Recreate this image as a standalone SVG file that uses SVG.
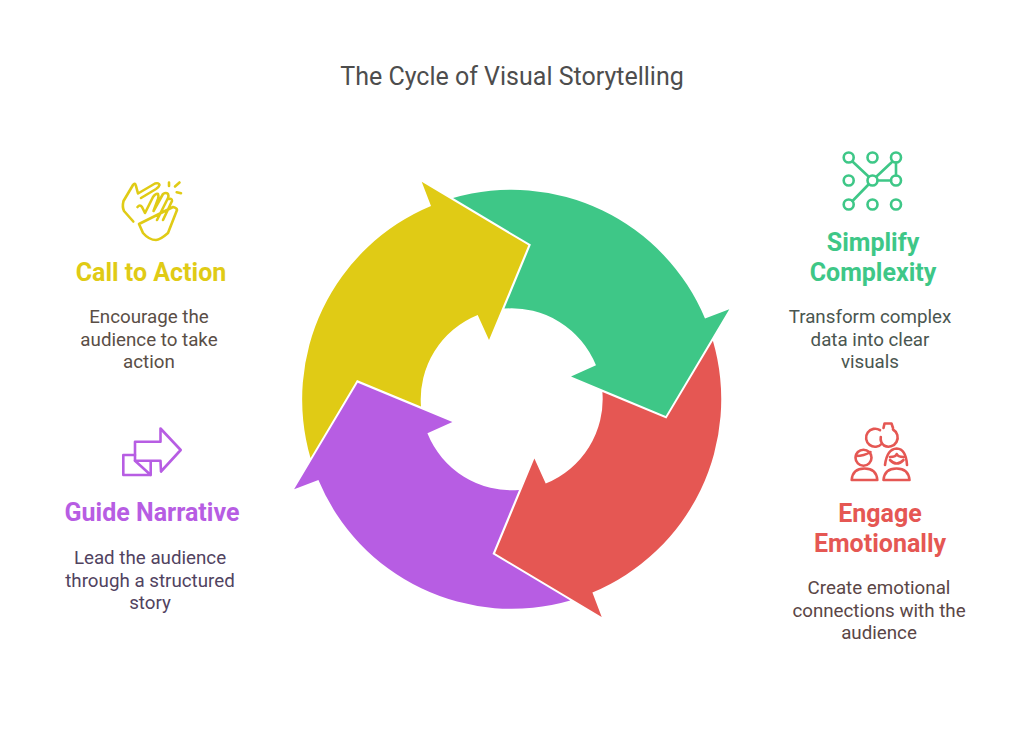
<svg xmlns="http://www.w3.org/2000/svg" width="1024" height="739" viewBox="0 0 1024 739">
<style>
text{font-family:Roboto,"Liberation Sans",sans-serif;text-anchor:middle}
.title{font-size:25px;fill:#4d4d4d}
.head{font-size:25px;font-weight:700}
.desc{font-size:18.75px}
.ic{fill:none;stroke-width:2.6;stroke-linecap:round;stroke-linejoin:round}
</style>
<defs>
<path id="arrow" d="M-90 -217.6L16.6 -154L-22.7 -59.3L-34 -84.3A91 91 0 0 0 -90.7 7.3L-154.7 -19.2L-201.2 58.6A209.5 209.5 0 0 1 -80.7 -193.3Z"/>
</defs>
<rect width="1024" height="739" fill="#fff"/>
<text class="title" x="512" y="85">The Cycle of Visual Storytelling</text>
<g id="connectors">
<use href="#arrow" fill="#e0cb15" transform="translate(511.7 399.3)"/>
<use href="#arrow" fill="#3ec787" transform="translate(511.7 399.3) rotate(90)"/>
<use href="#arrow" fill="#e55753" transform="translate(511.7 399.3) rotate(180)"/>
<use href="#arrow" fill="#b75de3" transform="translate(511.7 399.3) rotate(270)"/>
</g>
<g id="node-call">
<g class="ic" stroke="#e0cb15">
<path d="M133.3 221.5L124 211Q122 207 123.5 201L133 185Q135 182 136 186L138 193.5L155 183.5Q159 182.5 159.5 185Q159 187 156 189L141 198"/>
<path d="M137.5 207Q140 204 142 207L145 213L153 197Q156 193 158 194Q159 196 158 199L153.5 211L163 194Q166 192 168 194Q169 196 168 198L157 220M169 199Q172 198 172 201L163 220M173 207Q177 208 177 210L168 233Q160 240 156 240Q149 240 143 233L139 224Z"/>
<path d="M169 182.5V186M179.5 182.5L175 186.5M176.7 192.3L181 193.3"/>
</g>
<text class="head" fill="#e0cb15" x="151" y="281">Call to Action</text>
<g class="desc" fill="#5a4e46"><text x="149" y="323">Encourage the</text><text x="149" y="346">audience to take</text><text x="149" y="368">action</text></g>
</g>
<g id="node-guide">
<g class="ic" stroke="#b75de3">
<path d="M135 441.7H160.5V428.5L180.7 450L161 471.5L160.5 460.7H135Z"/>
<path d="M135 455H123.3V475H150.7V461.5M135 460.7L150.7 475"/>
</g>
<text class="head" fill="#b75de3" x="152" y="521">Guide Narrative</text>
<g class="desc" fill="#51435f"><text x="150" y="564">Lead the audience</text><text x="150" y="587">through a structured</text><text x="150" y="609">story</text></g>
</g>
<g id="node-simplify">
<g class="ic" stroke="#3ec787">
<circle cx="848.7" cy="157.5" r="5"/><circle cx="872.5" cy="157.5" r="5"/><circle cx="896" cy="157.5" r="5"/><circle cx="848.7" cy="180.5" r="5"/><circle cx="872.5" cy="180.5" r="5"/><circle cx="896" cy="180.5" r="5"/><circle cx="848.7" cy="204.5" r="5"/><circle cx="872.5" cy="204.5" r="5"/><circle cx="896" cy="204.5" r="5"/>
<path d="M853 162L868.5 176.5M876.5 176.5L892 162M878 180.5H891M896 162.5V175.5M868.5 184.5L852.5 201"/>
</g>
<text class="head" fill="#3ec787" x="873" y="251">Simplify</text><text class="head" fill="#3ec787" x="873" y="281">Complexity</text>
<g class="desc" fill="#4a5650"><text x="870" y="323">Transform complex</text><text x="870" y="346">data into clear</text><text x="870" y="368">visuals</text></g>
</g>
<g id="node-engage">
<g class="ic" stroke="#e55753">
<path d="M880 430.2A9 9 0 1 0 882 443.5M880.8 437A9 9 0 0 0 884 445.5A9 9 0 0 0 893 429.5M883.5 428L884.5 423.5H891.5L893 428"/>
<circle cx="863.5" cy="457.7" r="8"/><path d="M856 456Q864 456 870.5 452M851.7 480Q852.5 468.5 864.5 468.5Q876.5 468.5 877.3 480Z"/>
<path d="M885 465Q887 449 896.7 448.5Q906 449 907 465M890 457Q896 457 896.7 454Q898 457 903.5 457M890 460Q896.7 467 903.5 460M883.5 480Q884.5 468.5 896.5 468.5Q908.5 468.5 909.5 480Z"/>
</g>
<text class="head" fill="#e55753" x="880" y="522">Engage</text><text class="head" fill="#e55753" x="880" y="552">Emotionally</text>
<g class="desc" fill="#5a4646"><text x="879" y="594">Create emotional</text><text x="879" y="616.5">connections with the</text><text x="879" y="639">audience</text></g>
</g>
</svg>
